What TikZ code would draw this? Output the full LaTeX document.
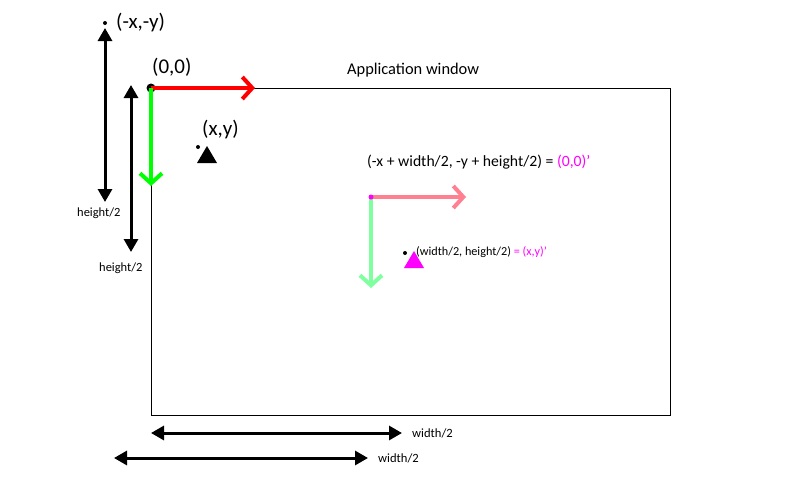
\documentclass[tikz,border=0pt]{standalone}
\usepackage{fontspec}
\setmainfont{Carlito}
\usetikzlibrary{arrows.meta}
\definecolor{pinkred}{RGB}{255,128,145}
\definecolor{lgreen}{RGB}{128,255,160}
\definecolor{mag}{RGB}{255,0,255}
\begin{document}
\begin{tikzpicture}[x=1pt,y=-1pt,
  dim/.style={line width=3pt,{Triangle[length=13pt,width=14pt]}-{Triangle[length=13pt,width=14pt]}},
  axis/.style={line width=4pt,-{Straight Barb[length=10pt,width=22pt,line width=4pt]}},
  lbl/.style={inner sep=0pt,anchor=west}]
\useasboundingbox (0,0) rectangle (800,482);
\node[draw,line width=1.2pt,minimum width=519pt,minimum height=327pt,anchor=north west,inner sep=0pt] (win) at (151,88) {};
\node[lbl,font=\fontsize{16.4}{18}\selectfont] (title) at (347,70) {Application window};
% origin
\coordinate (o) at (151,88);
\fill (o) circle (4.5pt);
\coordinate (ox) at (255,88);
\coordinate (oy) at (151,186);
\draw[axis,red] (o) -- (ox);
\draw[axis,green] (o) -- (oy);
\node[lbl,font=\fontsize{21}{23}\selectfont] (t00) at (152,67) {(0,0)};
% -x,-y
\fill (105,23) circle (2pt) coordinate (mxy);
\node[lbl,font=\fontsize{21}{23}\selectfont] (tmxy) at (116,23) {(-x,-y)};
\coordinate (a1t) at (105,28);
\coordinate (a1b) at (105,202);
\draw[dim] (a1t) -- (a1b);
\node[lbl,font=\fontsize{12.5}{14}\selectfont] (h1) at (77,213) {height/2};
\coordinate (a2t) at (131,85);
\coordinate (a2b) at (131,252);
\draw[dim] (a2t) -- (a2b);
\node[lbl,font=\fontsize{12.5}{14}\selectfont] (h2) at (99,268) {height/2};
% x,y
\fill (198,147) circle (2pt) coordinate (xy);
\fill (207,146) -- (217,163) -- (197,163) -- cycle;
\node[lbl,font=\fontsize{21}{23}\selectfont] (txy) at (202,130) {(x,y)};
% new origin
\coordinate (n) at (371,197);
\coordinate (nx) at (466,197);
\coordinate (ny) at (371,288);
\draw[axis,pinkred] (n) -- (nx);
\draw[axis,lgreen] (n) -- (ny);
\fill[mag] (n) circle (2.5pt);
\node[lbl,font=\fontsize{15.7}{17}\selectfont] (tn) at (367,162) {(-x + width/2, -y + height/2) = \textcolor{mag}{(0,0)'}};
\fill (405,253) circle (2pt) coordinate (cxy);
\fill[mag] (414,251) -- (424,268) -- (404,268) -- cycle;
\node[lbl,font=\fontsize{12.2}{14}\selectfont] (tc) at (416,252) {(width/2, height/2) \textcolor{mag}{= (x,y)'}};
% bottom
\coordinate (b1l) at (151,433);
\coordinate (b1r) at (402,433);
\draw[dim] (b1l) -- (b1r);
\node[lbl,font=\fontsize{12.6}{14}\selectfont] (w1) at (412,433) {width/2};
\coordinate (b2l) at (114,458);
\coordinate (b2r) at (368,458);
\draw[dim] (b2l) -- (b2r);
\node[lbl,font=\fontsize{12.6}{14}\selectfont] (w2) at (378,458) {width/2};
\end{tikzpicture}
\end{document}
